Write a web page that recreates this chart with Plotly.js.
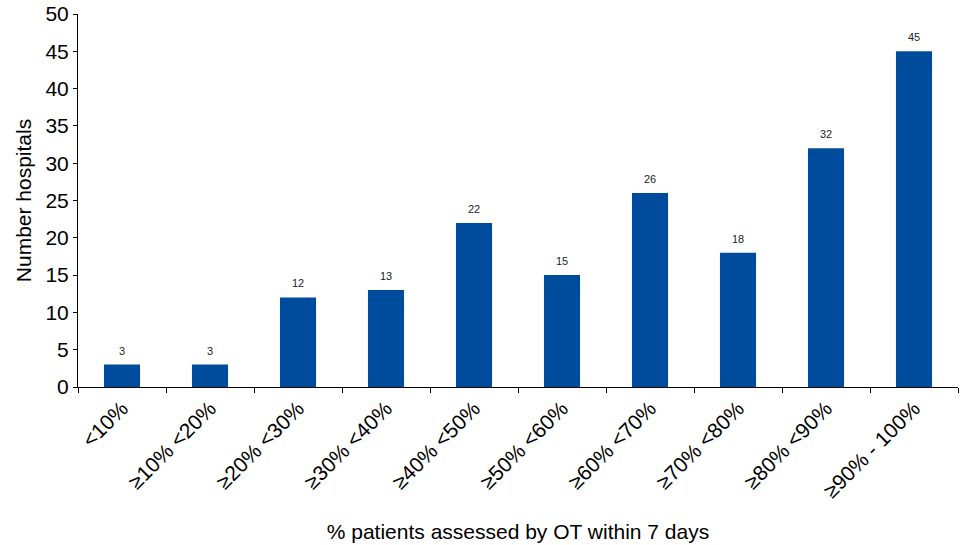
<!DOCTYPE html>
<html>
<head>
<meta charset="utf-8">
<script src="https://cdn.plot.ly/plotly-3.0.1.min.js"></script>
<style>html,body{margin:0;padding:0;background:#fff;}#chart{width:964px;height:545px;}</style>
</head>
<body>
<div id="chart"></div>
<script>
const categories = ["<10%", "≥10% <20%", "≥20% <30%", "≥30% <40%", "≥40% <50%", "≥50% <60%", "≥60% <70%", "≥70% <80%", "≥80% <90%", "≥90% - 100%"];
const hospitals = [3, 3, 12, 13, 22, 15, 26, 18, 32, 45];
const yTicks = [0, 5, 10, 15, 20, 25, 30, 35, 40, 45, 50];

const font = "Liberation Sans, Arial, sans-serif";
const labels = categories.map((c, i) => ({
  x: c, y: hospitals[i], xref: "x", yref: "y",
  text: String(hospitals[i]), showarrow: false,
  yanchor: "bottom", yshift: 6,
  font: {family: font, size: 11, color: "#222"}
}));

Plotly.newPlot("chart", [{
  type: "bar",
  x: categories,
  y: hospitals,
  marker: {color: "#004c9c"},
  hoverinfo: "x+y"
}], {
  width: 964, height: 545,
  margin: {l: 78, r: 6, t: 14, b: 158},
  paper_bgcolor: "#fff", plot_bgcolor: "#fff",
  bargap: 0.59,
  showlegend: false,
  font: {family: font, color: "#000"},
  annotations: labels,
  xaxis: {
    type: "category",
    showline: true, linecolor: "#000", linewidth: 1,
    ticks: "outside", tickson: "boundaries", ticklen: 5, tickcolor: "#000",
    tickangle: -45,
    tickfont: {family: font, size: 21, color: "#000"},
    showgrid: false, zeroline: false,
    title: {text: "% patients assessed by OT within 7 days", font: {family: font, size: 21, color: "#000"}, standoff: 23}
  },
  yaxis: {
    range: [0, 50],
    tickvals: yTicks,
    showline: true, linecolor: "#000", linewidth: 1,
    ticks: "outside", ticklen: 4, tickcolor: "#000",
    tickfont: {family: font, size: 21, color: "#000"},
    showgrid: false, zeroline: false,
    title: {text: "Number hospitals", font: {family: font, size: 21, color: "#000"}, standoff: 8}
  }
}, {displayModeBar: false, staticPlot: true});
</script>
</body>
</html>
